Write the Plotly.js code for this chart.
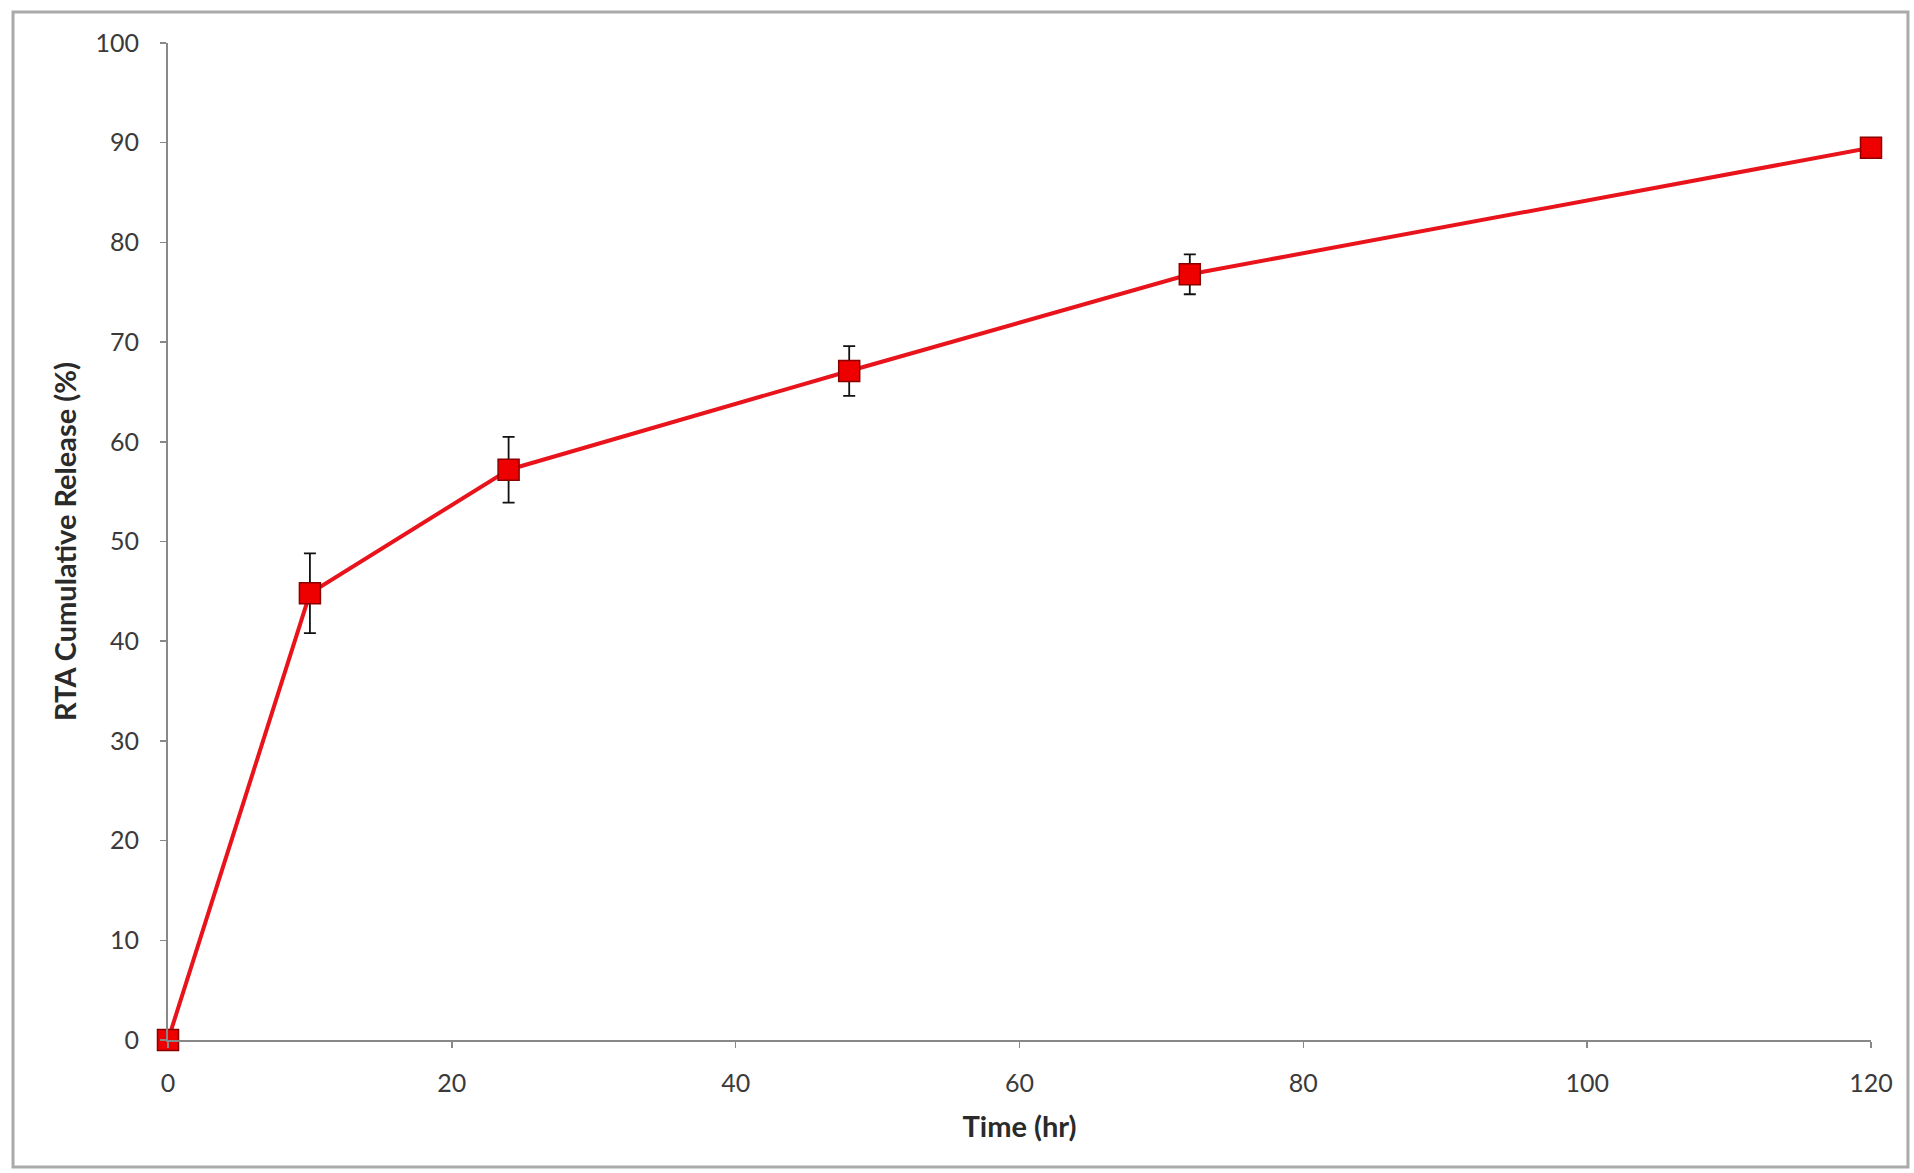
<!DOCTYPE html>
<html>
<head>
<meta charset="utf-8">
<script src="https://cdn.plot.ly/plotly-3.0.1.min.js"></script>
<style>html,body{margin:0;padding:0;background:#fff;}#chart{width:1914px;height:1173px;}</style>
</head>
<body>
<div id="chart"></div>
<script>
const timeHr = [0, 10, 24, 48, 72, 120];
const release = [0, 44.8, 57.2, 67.1, 76.8, 89.5];
const releaseErr = [0, 4.0, 3.3, 2.5, 2.0, 0.5];
const xTicks = [0, 20, 40, 60, 80, 100, 120];
const yTicks = [0, 10, 20, 30, 40, 50, 60, 70, 80, 90, 100];

const trace = {
  x: timeHr, y: release, type: 'scatter', mode: 'lines+markers',
  cliponaxis: false,
  line: {color: '#e8131b', width: 4},
  marker: {symbol: 'square', size: 21, color: '#ee0000', line: {color: '#8a0000', width: 1.5}},
  error_y: {type: 'data', array: releaseErr, visible: true, color: '#111', thickness: 1.8, width: 6}
};

const fam = 'Lato, "Open Sans", sans-serif';
const axisFont = {family: fam, size: 25, color: '#3a3a3a'};
const layout = {
  width: 1914, height: 1173,
  margin: {l: 168, r: 43, t: 43, b: 133},
  paper_bgcolor: '#fff', plot_bgcolor: '#fff',
  showlegend: false,
  xaxis: {
    range: [0, 120], tickvals: xTicks, ticktext: xTicks.map(String),
    showgrid: false, zeroline: false, showline: true, linecolor: '#888', linewidth: 2,
    ticks: 'outside', ticklen: 6, tickcolor: '#888', tickwidth: 1.5,
    tickfont: axisFont, ticklabelstandoff: 14,
    title: {text: 'Time (hr)', font: {family: fam, size: 29, color: '#2a2a2a', weight: 'bold'}, standoff: 21}
  },
  yaxis: {
    range: [0, 100], tickvals: yTicks, ticktext: yTicks.map(String),
    showgrid: false, zeroline: false, showline: true, linecolor: '#888', linewidth: 2,
    ticks: 'outside', ticklen: 6, tickcolor: '#888', tickwidth: 1.5,
    tickfont: axisFont, ticklabelstandoff: 16,
    title: {text: 'RTA Cumulative Release (%)', font: {family: fam, size: 29, color: '#2a2a2a', weight: 'bold'}, standoff: 10}
  },
  shapes: [{
    type: 'rect', xref: 'paper', yref: 'paper',
    x0: -0.091, x1: 1.0217, y0: -0.1274, y1: 1.031,
    line: {color: '#aaa', width: 3}, fillcolor: 'rgba(0,0,0,0)', layer: 'below'
  }]
};

Plotly.newPlot('chart', [trace], layout, {displayModeBar: false, staticPlot: true});
</script>
</body>
</html>
